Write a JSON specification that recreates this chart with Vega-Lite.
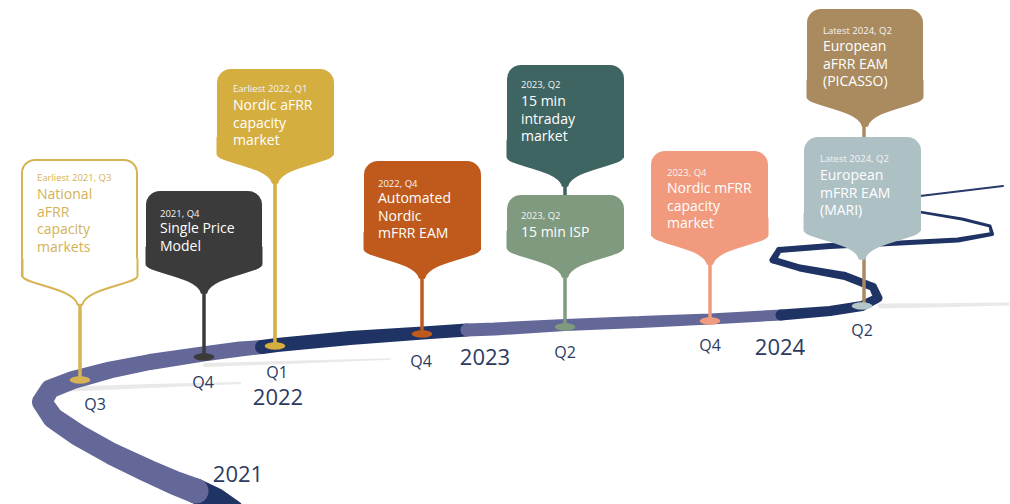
{
  "$schema": "https://vega.github.io/schema/vega-lite/v6.json",
  "width": 1010,
  "height": 504,
  "autosize": {"type": "fit", "contains": "padding"},
  "padding": 0,
  "background": "white",
  "config": {"view": {"stroke": null}},
  "resolve": {"scale": {"fill": "independent", "stroke": "independent", "color": "independent", "size": "independent"}},
  "datasets": {
    "road": [
      {"seg": "s1", "i": 1, "x": 232, "y": 512, "w": 25},
      {"seg": "s1", "i": 2, "x": 215, "y": 500, "w": 25},
      {"seg": "s1", "i": 3, "x": 196, "y": 491, "w": 25},
      {"seg": "s2", "i": 4, "x": 196, "y": 491, "w": 25},
      {"seg": "s2", "i": 5, "x": 175, "y": 483, "w": 24},
      {"seg": "s2", "i": 6, "x": 148, "y": 471, "w": 23},
      {"seg": "s2", "i": 7, "x": 112, "y": 454, "w": 22},
      {"seg": "s2", "i": 8, "x": 78, "y": 435, "w": 22},
      {"seg": "s2", "i": 9, "x": 53, "y": 418, "w": 21},
      {"seg": "s2", "i": 10, "x": 42, "y": 402, "w": 20},
      {"seg": "s2", "i": 11, "x": 50, "y": 389, "w": 19},
      {"seg": "s2", "i": 12, "x": 73, "y": 380, "w": 18},
      {"seg": "s2", "i": 13, "x": 110, "y": 370, "w": 17},
      {"seg": "s2", "i": 14, "x": 150, "y": 362, "w": 16},
      {"seg": "s2", "i": 15, "x": 203, "y": 354, "w": 15},
      {"seg": "s2", "i": 16, "x": 240, "y": 349, "w": 15},
      {"seg": "s2", "i": 17, "x": 262, "y": 347, "w": 14},
      {"seg": "s3", "i": 18, "x": 262, "y": 347, "w": 14},
      {"seg": "s3", "i": 19, "x": 277, "y": 345, "w": 14},
      {"seg": "s3", "i": 20, "x": 350, "y": 338, "w": 14},
      {"seg": "s3", "i": 21, "x": 423, "y": 333, "w": 13},
      {"seg": "s3", "i": 22, "x": 467, "y": 330, "w": 13},
      {"seg": "s4", "i": 23, "x": 467, "y": 330, "w": 13},
      {"seg": "s4", "i": 24, "x": 495, "y": 329, "w": 13},
      {"seg": "s4", "i": 25, "x": 565, "y": 325, "w": 12},
      {"seg": "s4", "i": 26, "x": 640, "y": 322, "w": 12},
      {"seg": "s4", "i": 27, "x": 710, "y": 319, "w": 11},
      {"seg": "s4", "i": 28, "x": 781, "y": 315, "w": 11},
      {"seg": "s5", "i": 29, "x": 781, "y": 315, "w": 11},
      {"seg": "s5", "i": 30, "x": 830, "y": 311, "w": 10},
      {"seg": "s5", "i": 31, "x": 862, "y": 306, "w": 10},
      {"seg": "s5", "i": 32, "x": 878, "y": 298, "w": 9},
      {"seg": "s5", "i": 33, "x": 873, "y": 287, "w": 8},
      {"seg": "s5", "i": 34, "x": 845, "y": 276, "w": 8},
      {"seg": "s5", "i": 35, "x": 800, "y": 268, "w": 7},
      {"seg": "s5", "i": 36, "x": 773, "y": 260, "w": 7},
      {"seg": "s5", "i": 37, "x": 779, "y": 250, "w": 6},
      {"seg": "s5", "i": 38, "x": 830, "y": 246, "w": 6},
      {"seg": "s5", "i": 39, "x": 900, "y": 243, "w": 5},
      {"seg": "s5", "i": 40, "x": 958, "y": 240, "w": 5},
      {"seg": "s5", "i": 41, "x": 992, "y": 234, "w": 4},
      {"seg": "s5", "i": 42, "x": 990, "y": 226, "w": 3},
      {"seg": "s5", "i": 43, "x": 962, "y": 219, "w": 3},
      {"seg": "s5", "i": 44, "x": 920, "y": 212, "w": 2.5},
      {"seg": "s6", "i": 45, "x": 920, "y": 196, "w": 2},
      {"seg": "s6", "i": 46, "x": 1003, "y": 186, "w": 2}
    ],
    "shadow": [
      {"seg": "h1", "i": 1, "x": 70, "y": 389, "w": 5},
      {"seg": "h1", "i": 2, "x": 150, "y": 386, "w": 4},
      {"seg": "h1", "i": 3, "x": 240, "y": 383, "w": 2},
      {"seg": "h2", "i": 1, "x": 205, "y": 365, "w": 4},
      {"seg": "h2", "i": 2, "x": 300, "y": 362, "w": 3},
      {"seg": "h2", "i": 3, "x": 390, "y": 359, "w": 1.5},
      {"seg": "h3", "i": 1, "x": 880, "y": 306, "w": 5},
      {"seg": "h3", "i": 2, "x": 950, "y": 305, "w": 4},
      {"seg": "h3", "i": 3, "x": 1008, "y": 304, "w": 3}
    ],
    "boxes": [
      {"id": "b1", "cx": 80, "x1": 22, "x2": 137, "y1": 160, "y2": 276, "tx": 37, "ys": 181, "ym": 199, "sub": "Earliest 2021, Q3", "main": "National\naFRR\ncapacity\nmarkets"},
      {"id": "b2", "cx": 204, "x1": 147, "x2": 261, "y1": 192, "y2": 264, "tx": 160, "ys": 217, "ym": 233, "sub": "2021, Q4", "main": "Single Price\nModel"},
      {"id": "b3", "cx": 275, "x1": 218, "x2": 333, "y1": 70, "y2": 154, "tx": 233, "ys": 92, "ym": 110, "sub": "Earliest 2022, Q1", "main": "Nordic aFRR\ncapacity\nmarket"},
      {"id": "b4", "cx": 422, "x1": 365, "x2": 480, "y1": 162, "y2": 249, "tx": 378, "ys": 187, "ym": 203, "sub": "2022, Q4", "main": "Automated\nNordic\nmFRR EAM"},
      {"id": "b5", "cx": 565, "x1": 508, "x2": 623, "y1": 66, "y2": 157, "tx": 521, "ys": 88, "ym": 106, "sub": "2023, Q2", "main": "15 min\nintraday\nmarket"},
      {"id": "b6", "cx": 565, "x1": 508, "x2": 623, "y1": 196, "y2": 248, "tx": 521, "ys": 219, "ym": 237, "sub": "2023, Q2", "main": "15 min ISP"},
      {"id": "b7", "cx": 710, "x1": 652, "x2": 767, "y1": 152, "y2": 235, "tx": 667, "ys": 176, "ym": 193, "sub": "2023, Q4", "main": "Nordic mFRR\ncapacity\nmarket"},
      {"id": "b8", "cx": 865, "x1": 808, "x2": 922, "y1": 10, "y2": 97, "tx": 823, "ys": 34, "ym": 51, "sub": "Latest 2024, Q2", "main": "European\naFRR EAM\n(PICASSO)"},
      {"id": "b9", "cx": 862, "x1": 805, "x2": 920, "y1": 138, "y2": 230, "tx": 820, "ys": 162, "ym": 180, "sub": "Latest 2024, Q2", "main": "European\nmFRR EAM\n(MARI)"}
    ],
    "stems": [
      {"id": "b1", "x": 80, "y": 298, "y2": 380},
      {"id": "b2", "x": 204, "y": 288, "y2": 357},
      {"id": "b3", "x": 275, "y": 178, "y2": 346},
      {"id": "b4", "x": 422, "y": 272, "y2": 334},
      {"id": "b5", "x": 565, "y": 180, "y2": 200},
      {"id": "b6", "x": 565, "y": 272, "y2": 327},
      {"id": "b7", "x": 710, "y": 258, "y2": 320},
      {"id": "b8", "x": 864, "y": 120, "y2": 305}
    ],
    "bases": [
      {"id": "b1", "x": 80, "y": 380},
      {"id": "b2", "x": 204, "y": 357},
      {"id": "b3", "x": 275, "y": 346},
      {"id": "b4", "x": 422, "y": 334},
      {"id": "b6", "x": 565, "y": 327},
      {"id": "b7", "x": 710, "y": 321},
      {"id": "b9", "x": 862, "y": 306}
    ],
    "labels": [
      {"t": "Q3", "x": 95, "y": 405, "kind": "q"},
      {"t": "Q4", "x": 203, "y": 383, "kind": "q"},
      {"t": "Q1", "x": 277, "y": 373, "kind": "q"},
      {"t": "Q4", "x": 421, "y": 362, "kind": "q"},
      {"t": "Q2", "x": 565, "y": 353, "kind": "q"},
      {"t": "Q4", "x": 710, "y": 346, "kind": "q"},
      {"t": "Q2", "x": 862, "y": 331, "kind": "q"},
      {"t": "2021", "x": 238, "y": 475, "kind": "year"},
      {"t": "2022", "x": 278, "y": 398, "kind": "year"},
      {"t": "2023", "x": 485, "y": 358, "kind": "year"},
      {"t": "2024", "x": 780, "y": 348, "kind": "year"}
    ]
  },
  "layer": [
    {
      "data": {"name": "shadow"},
      "mark": {"type": "trail", "color": "#9a9a9a", "opacity": 0.22},
      "encoding": {
        "x": {"field": "x", "type": "quantitative", "scale": {"domain": [0, 1010], "nice": false, "zero": false}, "axis": null},
        "y": {"field": "y", "type": "quantitative", "scale": {"domain": [0, 504], "nice": false, "zero": false, "reverse": true}, "axis": null},
        "size": {"field": "w", "type": "quantitative", "scale": null, "legend": null},
        "detail": {"field": "seg"},
        "order": {"field": "i"}
      }
    },
    {
      "data": {"name": "road"},
      "mark": {"type": "trail", "clip": true},
      "encoding": {
        "x": {"field": "x", "type": "quantitative", "scale": {"domain": [0, 1010], "nice": false, "zero": false}, "axis": null},
        "y": {"field": "y", "type": "quantitative", "scale": {"domain": [0, 504], "nice": false, "zero": false, "reverse": true}, "axis": null},
        "size": {"field": "w", "type": "quantitative", "scale": null, "legend": null},
        "order": {"field": "i"},
        "fill": {"field": "seg", "type": "nominal", "legend": null, "scale": {"domain": ["s1", "s2", "s3", "s4", "s5", "s6"], "range": ["#1f3365", "#646898", "#1f3365", "#646898", "#1f3365", "#2a3a6a"]}}
      }
    },
    {
      "data": {"name": "stems"},
      "mark": {"type": "rule", "strokeWidth": 3.5},
      "encoding": {
        "x": {"field": "x", "type": "quantitative", "scale": {"domain": [0, 1010], "nice": false, "zero": false}, "axis": null},
        "y": {"field": "y", "type": "quantitative", "scale": {"domain": [0, 504], "nice": false, "zero": false, "reverse": true}, "axis": null},
        "y2": {"field": "y2"},
        "color": {"field": "id", "type": "nominal", "legend": null, "scale": {"domain": ["b1", "b2", "b3", "b4", "b5", "b6", "b7", "b8", "b9"], "range": ["#d6b454", "#3b3b3b", "#d5ae40", "#c05a1c", "#3f6562", "#7f9a7f", "#f19a7d", "#a98b5f", "#b4c6ca"]}}
      }
    },
    {
      "data": {"name": "bases"},
      "mark": {"type": "point", "filled": true, "opacity": 1, "size": 420, "shape": "M -1 0 A 1 0.36 0 1 0 1 0 A 1 0.36 0 1 0 -1 0 Z"},
      "encoding": {
        "x": {"field": "x", "type": "quantitative", "scale": {"domain": [0, 1010], "nice": false, "zero": false}, "axis": null},
        "y": {"field": "y", "type": "quantitative", "scale": {"domain": [0, 504], "nice": false, "zero": false, "reverse": true}, "axis": null},
        "color": {"field": "id", "type": "nominal", "legend": null, "scale": {"domain": ["b1", "b2", "b3", "b4", "b5", "b6", "b7", "b8", "b9"], "range": ["#d6b454", "#3b3b3b", "#d5ae40", "#c05a1c", "#3f6562", "#7f9a7f", "#f19a7d", "#a98b5f", "#b4c6ca"]}}
      }
    },
    {
      "data": {"name": "boxes"},
      "mark": {"type": "rect", "cornerRadiusTopLeft": 13, "cornerRadiusTopRight": 13, "strokeWidth": 2},
      "encoding": {
        "x": {"field": "x1", "type": "quantitative", "scale": {"domain": [0, 1010], "nice": false, "zero": false}, "axis": null},
        "x2": {"field": "x2"},
        "y": {"field": "y1", "type": "quantitative", "scale": {"domain": [0, 504], "nice": false, "zero": false, "reverse": true}, "axis": null},
        "y2": {"field": "y2"},
        "fill": {"field": "id", "type": "nominal", "legend": null, "scale": {"domain": ["b1", "b2", "b3", "b4", "b5", "b6", "b7", "b8", "b9"], "range": ["#ffffff", "#3b3b3b", "#d5ae40", "#c05a1c", "#3f6562", "#7f9a7f", "#f19a7d", "#a98b5f", "#adc0c4"]}},
        "stroke": {"field": "id", "type": "nominal", "legend": null, "scale": {"domain": ["b1", "b2", "b3", "b4", "b5", "b6", "b7", "b8", "b9"], "range": ["#d6b454", "#3b3b3b", "#d5ae40", "#c05a1c", "#3f6562", "#7f9a7f", "#f19a7d", "#a98b5f", "#adc0c4"]}}
      }
    },
    {
      "data": {"name": "boxes"},
      "mark": {"type": "point", "filled": true, "opacity": 1, "strokeWidth": 2, "size": 13225, "shape": "M -1 -0.3 L -1 0 C -1 0.14 -0.12 0.2 -0.04 0.5 L 0.04 0.5 C 0.12 0.2 1 0.14 1 0 L 1 -0.3"},
      "encoding": {
        "x": {"field": "cx", "type": "quantitative", "scale": {"domain": [0, 1010], "nice": false, "zero": false}, "axis": null},
        "y": {"field": "y2", "type": "quantitative", "scale": {"domain": [0, 504], "nice": false, "zero": false, "reverse": true}, "axis": null},
        "fill": {"field": "id", "type": "nominal", "legend": null, "scale": {"domain": ["b1", "b2", "b3", "b4", "b5", "b6", "b7", "b8", "b9"], "range": ["#ffffff", "#3b3b3b", "#d5ae40", "#c05a1c", "#3f6562", "#7f9a7f", "#f19a7d", "#a98b5f", "#adc0c4"]}},
        "stroke": {"field": "id", "type": "nominal", "legend": null, "scale": {"domain": ["b1", "b2", "b3", "b4", "b5", "b6", "b7", "b8", "b9"], "range": ["#d6b454", "#3b3b3b", "#d5ae40", "#c05a1c", "#3f6562", "#7f9a7f", "#f19a7d", "#a98b5f", "#adc0c4"]}}
      }
    },
    {
      "data": {"name": "boxes"},
      "mark": {"type": "text", "align": "left", "baseline": "alphabetic", "font": "Open Sans", "fontSize": 9.5},
      "encoding": {
        "x": {"field": "tx", "type": "quantitative", "scale": {"domain": [0, 1010], "nice": false, "zero": false}, "axis": null},
        "y": {"field": "ys", "type": "quantitative", "scale": {"domain": [0, 504], "nice": false, "zero": false, "reverse": true}, "axis": null},
        "text": {"field": "sub"},
        "color": {"condition": {"test": "datum.id === 'b1'", "value": "#d3b256"}, "value": "#f4f4f4"}
      }
    },
    {
      "data": {"name": "boxes"},
      "mark": {"type": "text", "align": "left", "baseline": "alphabetic", "font": "Open Sans", "fontSize": 14, "lineBreak": "\n", "lineHeight": 17.5},
      "encoding": {
        "x": {"field": "tx", "type": "quantitative", "scale": {"domain": [0, 1010], "nice": false, "zero": false}, "axis": null},
        "y": {"field": "ym", "type": "quantitative", "scale": {"domain": [0, 504], "nice": false, "zero": false, "reverse": true}, "axis": null},
        "text": {"field": "main"},
        "color": {"condition": {"test": "datum.id === 'b1'", "value": "#d3b256"}, "value": "#ffffff"}
      }
    },
    {
      "data": {"name": "labels"},
      "mark": {"type": "text", "align": "center", "baseline": "middle", "font": "Open Sans", "color": "#2c3a62"},
      "encoding": {
        "x": {"field": "x", "type": "quantitative", "scale": {"domain": [0, 1010], "nice": false, "zero": false}, "axis": null},
        "y": {"field": "y", "type": "quantitative", "scale": {"domain": [0, 504], "nice": false, "zero": false, "reverse": true}, "axis": null},
        "text": {"field": "t"},
        "size": {"field": "kind", "type": "nominal", "legend": null, "scale": {"domain": ["q", "year"], "range": [16, 22]}}
      }
    }
  ]
}
